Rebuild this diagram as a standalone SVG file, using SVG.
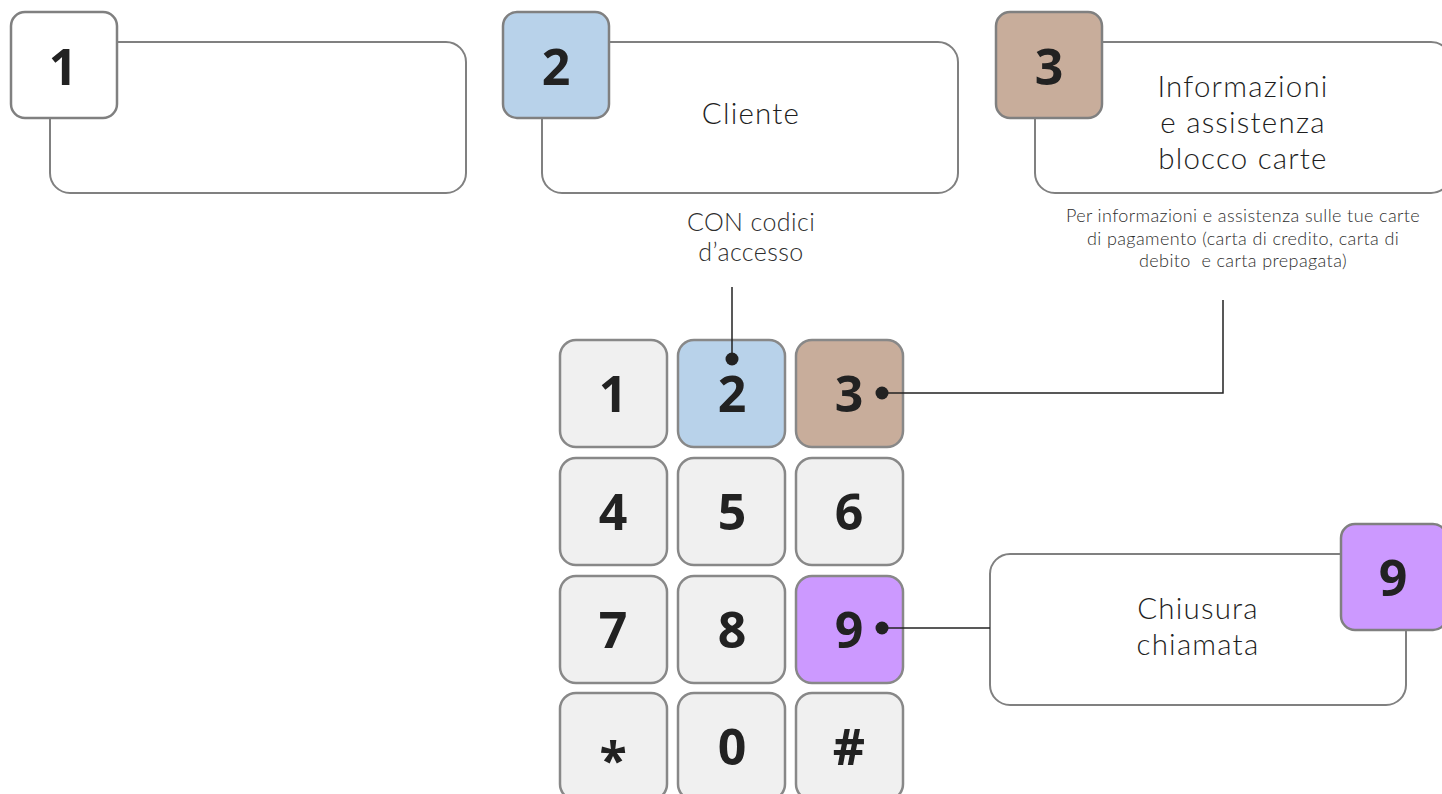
<svg xmlns="http://www.w3.org/2000/svg" width="1442" height="794" viewBox="0 0 1442 794">
<style>
.big{fill:#fff;stroke:#808080;stroke-width:2}
.sq{stroke:#808080;stroke-width:2.5}
.key{stroke:#888;stroke-width:2.5}
.dig{font-family:"Open Sans","Noto Sans",sans-serif;font-weight:700;font-size:50px;fill:#222;text-anchor:middle}
.lbl{font-family:Lato,"Open Sans",sans-serif;font-weight:300;font-size:29.5px;letter-spacing:1.2px;fill:#1e1e1e;text-anchor:middle}
.sm{font-family:Lato,"Open Sans",sans-serif;font-weight:300;font-size:18px;letter-spacing:0.4px;fill:#2e2e2e;text-anchor:middle}
.md{font-family:Lato,"Open Sans",sans-serif;font-weight:300;font-size:25px;letter-spacing:0.4px;fill:#2e2e2e;text-anchor:middle}
.w{fill:#fff}.g{fill:#f0f0f0}.b{fill:#b8d2ea}.br{fill:#c8ad9b}.p{fill:#cc99ff}
.ln{stroke:#222;stroke-width:1.5;fill:none}
.dot{fill:#222}
</style>
<rect width="1442" height="794" fill="#fff"/>
<g id="box1">
<rect class="big" x="50" y="42" width="416" height="151" rx="20"/>
<rect class="sq w" x="11" y="12" width="106" height="106" rx="14"/>
<text class="dig" x="63" y="85">1</text>
</g>
<g id="box2">
<rect class="big" x="542" y="42" width="416" height="151" rx="20"/>
<rect class="sq b" x="503" y="12" width="106" height="106" rx="14"/>
<text class="dig" x="556" y="85">2</text>
<text class="lbl" x="751" y="124">Cliente</text>
</g>
<g id="box3">
<rect class="big" x="1035" y="42" width="416" height="151" rx="20"/>
<rect class="sq br" x="996" y="12" width="106" height="106" rx="14"/>
<text class="dig" x="1049" y="85">3</text>
<text class="lbl" x="1243" y="97">Informazioni</text>
<text class="lbl" x="1243" y="133">e assistenza</text>
<text class="lbl" x="1243" y="169">blocco carte</text>
</g>
<g id="desc3">
<text class="sm" x="1243" y="222">Per informazioni e assistenza sulle tue carte</text>
<text class="sm" x="1243" y="245">di pagamento (carta di credito, carta di</text>
<text class="sm" x="1243" y="267" xml:space="preserve">debito  e carta prepagata)</text>
</g>
<g id="desc2">
<text class="md" x="751" y="231">CON codici</text>
<text class="md" x="751" y="261">d’accesso</text>
</g>
<g id="box9">
<rect class="big" x="990" y="554" width="416" height="151" rx="20"/>
<rect class="sq p" x="1341" y="524" width="106" height="106" rx="14"/>
<text class="dig" x="1393" y="596">9</text>
<text class="lbl" x="1198" y="619">Chiusura</text>
<text class="lbl" x="1198" y="655">chiamata</text>
</g>
<g id="keypad">
<rect class="key g" x="560" y="340" width="107" height="107" rx="16"/>
<text class="dig" x="613" y="412">1</text>
<rect class="key b" x="678" y="340" width="107" height="107" rx="16"/>
<text class="dig" x="732" y="412">2</text>
<rect class="key br" x="796" y="340" width="107" height="107" rx="16"/>
<text class="dig" x="849" y="412">3</text>
<rect class="key g" x="560" y="458" width="107" height="107" rx="16"/>
<text class="dig" x="613" y="530">4</text>
<rect class="key g" x="678" y="458" width="107" height="107" rx="16"/>
<text class="dig" x="732" y="530">5</text>
<rect class="key g" x="796" y="458" width="107" height="107" rx="16"/>
<text class="dig" x="849" y="530">6</text>
<rect class="key g" x="560" y="576" width="107" height="107" rx="16"/>
<text class="dig" x="613" y="648">7</text>
<rect class="key g" x="678" y="576" width="107" height="107" rx="16"/>
<text class="dig" x="732" y="648">8</text>
<rect class="key p" x="796" y="576" width="107" height="107" rx="16"/>
<text class="dig" x="849" y="648">9</text>
<rect class="key g" x="560" y="693" width="107" height="107" rx="16"/>
<text class="dig" x="613" y="778">*</text>
<rect class="key g" x="678" y="693" width="107" height="107" rx="16"/>
<text class="dig" x="732" y="765">0</text>
<rect class="key g" x="796" y="693" width="107" height="107" rx="16"/>
<text class="dig" x="849" y="765">#</text>
</g>
<g id="connectors">
<path class="ln" d="M732 287V359"/>
<circle class="dot" cx="732" cy="359" r="6.5"/>
<path class="ln" d="M882 393H1223V300"/>
<circle class="dot" cx="882" cy="393" r="6.5"/>
<path class="ln" d="M882 628H990"/>
<circle class="dot" cx="882" cy="628" r="6.5"/>
</g>
</svg>
